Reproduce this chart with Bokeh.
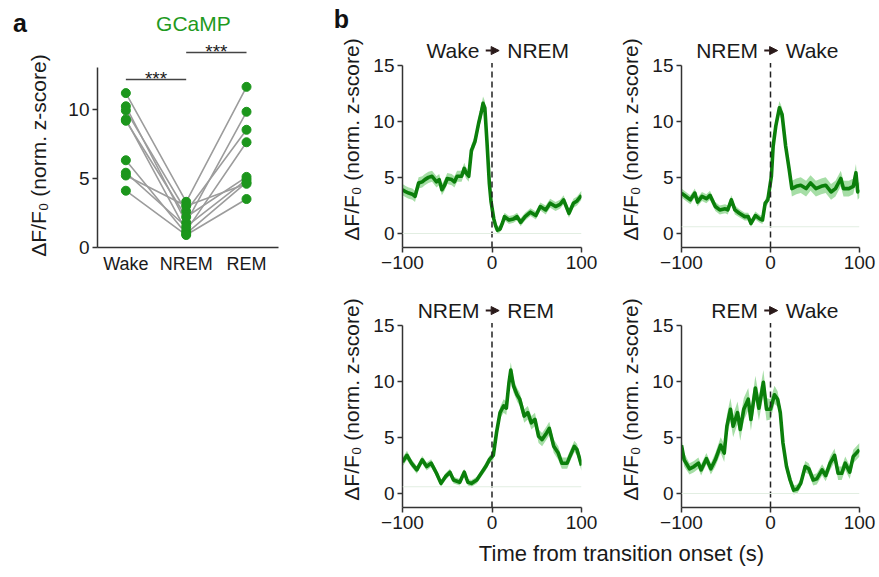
from bokeh.plotting import figure
from bokeh.layouts import row, column
from bokeh.models import FixedTicker, Arrow, NormalHead, Range1d, Span
from bokeh.core.properties import value
from bokeh.embed import file_html
from bokeh.resources import INLINE

FONT = "Liberation Sans"
AX = "#333333"
TXT = "#1a1a1a"
GREEN_LINE = "#0b7f0b"
GREEN_BAND = "#96d896"
GREEN_PT = "#1c961c"
GREEN_TXT = "#1f9a1f"

# ---------------- panel a data ----------------
states = ["Wake", "NREM", "REM"]
wake_vals = [11.15, 10.2, 9.9, 9.25, 9.15, 6.3, 5.4, 5.2, 4.1]
nrem_vals = [3.3, 1.8, 2.6, 1.2, 2.2, 1.0, 1.5, 3.0, 0.9]
rem_vals = [11.6, 9.8, 8.5, 7.6, 5.1, 4.7, 4.9, 4.6, 3.5]
sig_labels = ["***", "***"]

# ---------------- panel b data ----------------
wn_t = [-100, -96, -93, -89, -86, -82, -78, -75, -71, -67, -62, -59, -56, -53, -50,
        -45, -42, -39, -34, -31, -29, -26, -23, -19, -15, -12, -10, -8, -5.5, -3,
        -1, 2, 4, 6, 9, 12, 14, 19, 24, 28, 32, 37, 43, 49, 54, 60, 65, 71, 76, 80,
        86, 91, 95, 100]
wn_m = [3.9, 3.7, 3.6, 3.5, 3.3, 4.5, 4.6, 4.8, 5.0, 5.1, 4.6, 4.8, 3.9, 4.3, 4.9,
        4.8, 4.6, 5.1, 5.1, 5.8, 5.4, 5.1, 7.4, 8.2, 9.8, 10.8, 11.6, 11.2, 8.0, 4.5,
        2.8, 1.3, 0.7, 0.3, 0.4, 1.0, 1.5, 1.2, 1.3, 1.5, 1.0, 1.5, 1.9, 1.6, 2.4,
        2.1, 2.7, 2.4, 2.6, 3.0, 1.8, 2.7, 2.9, 3.4]
wn_s = [0.5, 0.5, 0.5, 0.5, 0.5, 0.5, 0.5, 0.5, 0.5, 0.5, 0.5, 0.5, 0.5, 0.5, 0.5,
        0.5, 0.5, 0.5, 0.5, 0.5, 0.5, 0.5, 0.5, 0.5, 0.6, 0.6, 0.6, 0.6, 0.5, 0.4,
        0.3, 0.3, 0.3, 0.3, 0.3, 0.35, 0.35, 0.35, 0.35, 0.35, 0.35, 0.35, 0.35, 0.35,
        0.35, 0.4, 0.4, 0.4, 0.4, 0.4, 0.4, 0.4, 0.4, 0.4]

nw_t = [-100, -95, -90, -85, -82, -77, -72, -68, -62, -57, -51, -48, -44, -40, -35,
        -29, -25, -22, -17, -12, -9, -6, -3, 1, 3, 6, 10, 13, 17, 21, 24, 29, 34, 40,
        45, 51, 57, 62, 68, 73, 79, 82, 88, 93, 96, 98, 100]
nw_m = [3.6, 3.3, 3.0, 3.6, 2.8, 3.3, 3.1, 3.4, 2.4, 2.1, 2.2, 2.1, 3.0, 2.1, 1.8,
        1.5, 1.5, 0.9, 1.6, 1.3, 1.2, 2.7, 3.0, 5.1, 7.8, 9.6, 11.2, 10.6, 7.8, 5.7,
        4.0, 4.2, 4.3, 4.0, 4.5, 4.0, 4.2, 4.3, 3.7, 4.0, 4.9, 4.0, 4.0, 4.2, 5.4, 3.7, 3.9]
nw_s = [0.4, 0.4, 0.4, 0.4, 0.4, 0.4, 0.4, 0.4, 0.4, 0.4, 0.4, 0.4, 0.4, 0.4, 0.35,
        0.35, 0.35, 0.35, 0.35, 0.35, 0.35, 0.35, 0.4, 0.5, 0.6, 0.6, 0.6, 0.6, 0.6, 0.6,
        0.7, 0.7, 0.7, 0.7, 0.7, 0.7, 0.7, 0.7, 0.7, 0.7, 0.7, 0.7, 0.7, 0.7, 0.8, 0.7, 0.7]

nr_t = [-100, -95, -90, -84, -78, -73, -68, -62, -57, -52, -47, -43, -36, -31, -27,
        -23, -17, -12, -7, -3, 1.5, 5, 9, 13, 16, 19, 21, 24, 28, 31, 36, 40, 44, 48,
        52, 56, 61, 64, 69, 74, 78, 84, 87, 92, 95, 100]
nr_m = [2.8, 3.4, 2.7, 2.1, 3.0, 2.4, 2.7, 1.8, 0.9, 1.5, 1.9, 1.2, 1.0, 1.9, 1.0,
        0.9, 1.2, 1.8, 2.4, 3.0, 3.4, 5.4, 7.2, 7.8, 7.6, 9.9, 11.0, 9.6, 8.8, 8.4,
        6.9, 7.2, 6.3, 6.6, 5.1, 4.8, 5.4, 5.8, 4.2, 3.6, 2.7, 2.7, 3.3, 4.2, 3.9, 2.5]
nr_s = [0.4, 0.4, 0.35, 0.35, 0.35, 0.35, 0.35, 0.35, 0.3, 0.3, 0.3, 0.3, 0.3, 0.3, 0.3,
        0.3, 0.3, 0.3, 0.35, 0.35, 0.4, 0.5, 0.5, 0.6, 0.6, 0.7, 0.7, 0.6, 0.6, 0.6,
        0.6, 0.6, 0.6, 0.6, 0.6, 0.6, 0.6, 0.6, 0.6, 0.6, 0.5, 0.5, 0.5, 0.5, 0.5, 0.5]

rw_t = [-100, -97, -91, -86, -81, -78, -72, -67, -62, -56, -52, -49, -45, -42, -37,
        -34, -30, -25, -22, -17, -13, -8, -4.5, 0, 4.5, 8, 11, 14, 18, 22, 26, 30, 34,
        39, 43, 48, 52, 58, 62, 67, 72, 76, 80, 84, 89, 93, 100]
rw_m = [4.3, 3.0, 2.2, 2.4, 2.7, 2.1, 3.1, 2.2, 3.0, 4.3, 3.6, 6.0, 7.5, 6.0, 7.2,
        5.7, 7.5, 8.4, 6.6, 9.4, 7.6, 9.9, 7.5, 7.5, 8.8, 8.4, 7.2, 4.5, 2.4, 1.2,
        0.3, 0.4, 0.9, 2.4, 2.2, 1.2, 1.3, 2.1, 1.6, 2.7, 3.4, 1.8, 1.8, 2.7, 1.9, 3.3, 3.9]
rw_s = [0.6, 0.6, 0.5, 0.5, 0.5, 0.5, 0.5, 0.5, 0.6, 0.7, 0.8, 1.0, 1.0, 1.0, 1.0,
        1.0, 1.0, 1.0, 1.0, 1.1, 1.1, 1.1, 1.0, 0.9, 0.8, 0.7, 0.6, 0.5, 0.5, 0.5,
        0.4, 0.4, 0.4, 0.5, 0.5, 0.5, 0.5, 0.5, 0.5, 0.6, 0.6, 0.6, 0.6, 0.6, 0.6, 0.6, 0.6]

panel_titles = [("Wake", "NREM"), ("NREM", "Wake"), ("NREM", "REM"), ("REM", "Wake")]
baseline_levels = [0.0, 0.6, 0.6, 0.0]
x_ticks_b = [-100, 0, 100]
y_ticks_b = [0, 5, 10, 15]
y_ticks_a = [0, 5, 10]
ylabel = "ΔF/F₀ (norm. z-score)"
xlabel = "Time from transition onset (s)"


def style_axes(p, tick_out_x=5, tick_font="19px"):
    for ax in (p.xaxis[0], p.yaxis[0]):
        ax.axis_line_color = AX
        ax.axis_line_width = 1.5
        ax.major_tick_line_color = AX
        ax.major_tick_line_width = 1.5
        ax.minor_tick_line_color = None
        ax.major_tick_in = 0
        ax.major_tick_out = 5
        ax.major_label_text_font = FONT
        ax.major_label_text_font_size = tick_font
        ax.major_label_text_color = TXT
        ax.major_label_standoff = 3
        ax.axis_label_text_font = FONT
        ax.axis_label_text_font_size = "21px"
        ax.axis_label_text_font_style = "normal"
        ax.axis_label_text_color = TXT
    p.xaxis[0].major_tick_out = tick_out_x
    p.grid.visible = False
    p.outline_line_color = None


def text_strip(w, h):
    s = figure(width=w, height=h, x_range=Range1d(0, w), y_range=Range1d(0, h),
               output_backend="svg", toolbar_location=None, x_axis_type=None,
               y_axis_type=None, title=None, min_border=0,
               min_border_left=0, min_border_right=0, min_border_top=0, min_border_bottom=0)
    s.outline_line_color = None
    s.grid.visible = False
    return s


# ---------------- panel a ----------------
left_strip = text_strip(64, 280)
left_strip.text(x=[19.5], y=[280 - 22], text=["a"], text_align="center", text_baseline="middle",
                text_font=value(FONT), text_font_size="25px", text_font_style="bold",
                text_color="#111111")
left_strip.text(x=[38], y=[280 - 155], text=[ylabel], angle=1.5708, text_align="center",
                text_baseline="middle", text_font=value(FONT), text_font_size="21px",
                text_color=TXT)

pa = figure(width=266, height=280, x_range=Range1d(-0.47, 2.53), y_range=Range1d(0, 16.97),
            output_backend="svg", toolbar_location=None, title=None,
            min_border_left=33, min_border_right=52, min_border_top=12, min_border_bottom=33)
style_axes(pa, tick_out_x=0)
pa.xaxis.ticker = FixedTicker(ticks=[0, 1, 2])
pa.xaxis.major_label_overrides = {0: states[0], 1: states[1], 2: states[2]}
pa.xaxis.major_label_text_font_size = "18px"
pa.yaxis.ticker = FixedTicker(ticks=y_ticks_a)
pa.yaxis.bounds = (0, 13)
pa.xaxis.major_label_standoff = 6

xs = [[0, 1, 2] for _ in wake_vals]
ys = [[w, n, r] for w, n, r in zip(wake_vals, nrem_vals, rem_vals)]
pa.multi_line(xs=xs, ys=ys, line_color="#9c9c9c", line_width=1.6)
for i, vals in enumerate([wake_vals, nrem_vals, rem_vals]):
    pa.scatter(x=[i] * len(vals), y=vals, size=9, fill_color=GREEN_PT, line_color=GREEN_PT)

pa.segment(x0=[0, 1], y0=[12.13, 14.08], x1=[1, 2], y1=[12.13, 14.08],
           line_color="#444444", line_width=1.6)
pa.text(x=[0.5, 1.5], y=[12.2, 14.15], text=sig_labels, text_align="center",
        text_baseline="alphabetic", text_font=value(FONT), text_font_size="19px",
        text_color=TXT)
pa.text(x=[1.12], y=[16.17], text=["GCaMP"], text_align="center", text_baseline="middle",
        text_font=value(FONT), text_font_size="21px", text_color=GREEN_TXT)


# ---------------- panel b ----------------
def trace_panel(t, m, s, titles, base, w, h, ml, mr, mt, mb):
    p = figure(width=w, height=h, x_range=Range1d(-100, 100), y_range=Range1d(-1.25, 18.0),
               output_backend="svg", toolbar_location=None, title=None,
               min_border_left=ml, min_border_right=mr, min_border_top=mt, min_border_bottom=mb)
    style_axes(p)
    p.xaxis.ticker = FixedTicker(ticks=x_ticks_b)
    p.yaxis.ticker = FixedTicker(ticks=y_ticks_b)
    p.yaxis.bounds = (-1.25, 15)
    p.yaxis.axis_label = ylabel
    p.yaxis.axis_label_standoff = 7
    lo = [a - b for a, b in zip(m, s)]
    hi = [a + b for a, b in zip(m, s)]
    p.add_layout(Span(location=base, dimension="width", line_color="#e2eee2", line_width=1))
    p.varea(x=t, y1=lo, y2=hi, fill_color=GREEN_BAND, fill_alpha=0.85)
    p.line(x=t, y=m, line_color=GREEN_LINE, line_width=3.6, line_join="round")
    p.segment(x0=[0], y0=[-1.25], x1=[0], y1=[15.2], line_color="#222222", line_width=1.5,
              line_dash="6 4")
    p.text(x=[-14], y=[16.3], text=[titles[0]], text_align="right", text_baseline="middle",
           text_font=value(FONT), text_font_size="21px", text_color=TXT)
    p.text(x=[17], y=[16.3], text=[titles[1]], text_align="left", text_baseline="middle",
           text_font=value(FONT), text_font_size="21px", text_color=TXT)
    p.add_layout(Arrow(end=NormalHead(size=8, fill_color="#2a1a1a", line_color="#2a1a1a"),
                       x_start=-7, y_start=16.3, x_end=8, y_end=16.3,
                       line_color="#2a1a1a", line_width=2))
    return p


b1 = trace_panel(wn_t, wn_m, wn_s, panel_titles[0], baseline_levels[0], 286, 249, 72, 35, 0, 33)
b2 = trace_panel(nw_t, nw_m, nw_s, panel_titles[1], baseline_levels[1], 261, 249, 63, 18, 0, 33)
b3 = trace_panel(nr_t, nr_m, nr_s, panel_titles[2], baseline_levels[2], 286, 257, 72, 35, 11, 30)
b4 = trace_panel(rw_t, rw_m, rw_s, panel_titles[3], baseline_levels[3], 261, 257, 63, 18, 11, 30)

top_strip = text_strip(547, 31)
top_strip.text(x=[11], y=[31 - 18], text=["b"], text_align="center", text_baseline="middle",
               text_font=value(FONT), text_font_size="25px", text_font_style="bold",
               text_color="#111111")

lab = text_strip(547, 32)
lab.text(x=[291], y=[16], text=[xlabel], text_align="center", text_baseline="middle",
         text_font=value(FONT), text_font_size="22px", text_color=TXT)

layout = row(column(left_strip), column(pa), column(top_strip, row(b1, b2), row(b3, b4), lab))

open("out.html", "w").write(file_html(layout, INLINE))
